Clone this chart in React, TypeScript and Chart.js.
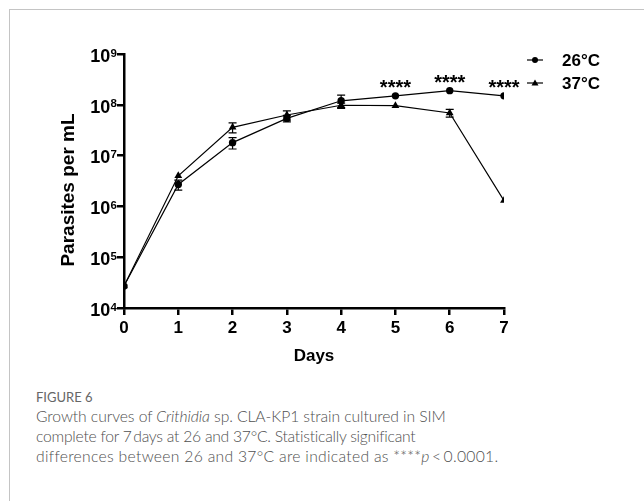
import React, { useEffect, useRef } from "react";
import { Chart, registerables } from "chart.js";

Chart.register(...registerables);

// ---- data ----
const days = [0, 1, 2, 3, 4, 5, 6, 7];
const label26 = "26°C";
const label37 = "37°C";
const mean26 = [2.7e4, 2.7e6, 1.8e7, 5.4e7, 1.2e8, 1.5e8, 1.9e8, 1.5e8];
const sd26 = [0, 6e5, 4.5e6, 8e6, 3.5e7, 0, 0, 0];
const mean37 = [2.7e4, 4.0e6, 3.6e7, 6.3e7, 9.8e7, 9.6e7, 6.9e7, 1.3e6];
const sd37 = [0, 0, 8e6, 1.3e7, 1.0e7, 0, 1.2e7, 0];
const yTickValues = [1e4, 1e5, 1e6, 1e7, 1e8, 1e9];
const xTickValues = [0, 1, 2, 3, 4, 5, 6, 7];
const sigDays = [5, 6, 7];
const sigMark = "****";
const yTitle = "Parasites per mL";
const xTitle = "Days";

const FONT = "'Liberation Sans', Arial, sans-serif";

const customPlugin = {
  id: "custom",
  beforeDatasetsDraw(chart: any) {
    const ctx = chart.ctx;
    const ys = chart.scales.y;
    const sds = [sd26, sd37];
    const means = [mean26, mean37];
    ctx.save();
    ctx.strokeStyle = "#000";
    ctx.lineWidth = 1.2;
    chart.data.datasets.forEach((_: any, i: number) => {
      const meta = chart.getDatasetMeta(i);
      meta.data.forEach((pt: any, j: number) => {
        const m = means[i][j];
        const e = sds[i][j];
        if (!e) return;
        const yT = ys.getPixelForValue(m + e);
        const yB = ys.getPixelForValue(Math.max(m - e, 1));
        const x = pt.x;
        ctx.beginPath();
        ctx.moveTo(x, yT);
        ctx.lineTo(x, yB);
        ctx.moveTo(x - 4, yT);
        ctx.lineTo(x + 4, yT);
        ctx.moveTo(x - 4, yB);
        ctx.lineTo(x + 4, yB);
        ctx.stroke();
      });
    });
    ctx.restore();
  },
  afterDraw(chart: any) {
    const ctx = chart.ctx;
    const ys = chart.scales.y;
    const xs = chart.scales.x;
    const area = chart.chartArea;
    ctx.save();
    ctx.fillStyle = "#000";
    // y tick labels with superscript exponents
    yTickValues.forEach((v) => {
      const y = ys.getPixelForValue(v);
      const exp = String(Math.round(Math.log10(v)));
      const expRight = area.left - 7;
      ctx.font = `bold 11.5px ${FONT}`;
      const ew = ctx.measureText(exp).width;
      ctx.textAlign = "left";
      ctx.textBaseline = "alphabetic";
      ctx.fillText(exp, expRight - ew, y + 2.5);
      ctx.font = `bold 18px ${FONT}`;
      ctx.textAlign = "right";
      ctx.fillText("10", expRight - ew - 0.3, y + 7.7);
    });
    // axis titles
    ctx.font = `bold 19px ${FONT}`;
    ctx.textAlign = "center";
    ctx.textBaseline = "middle";
    ctx.save();
    ctx.translate(69, 190);
    ctx.rotate(-Math.PI / 2);
    ctx.fillText(yTitle, 0, 0);
    ctx.restore();
    ctx.font = `bold 17px ${FONT}`;
    ctx.fillText(xTitle, (area.left + area.right) / 2, 356);
    // significance marks
    ctx.font = `bold 20px ${FONT}`;
    ctx.textAlign = "center";
    ctx.textBaseline = "alphabetic";
    sigDays.forEach((d) => {
      const idx = days.indexOf(d);
      const top = Math.min(ys.getPixelForValue(mean26[idx]), ys.getPixelForValue(mean37[idx]));
      ctx.fillText(sigMark, xs.getPixelForValue(d), top - 13 + 11.5);
    });
    // legend
    const items = [
      { label: label26, style: "circle", y: 60 },
      { label: label37, style: "triangle", y: 83 },
    ];
    items.forEach((it) => {
      ctx.strokeStyle = "#000";
      ctx.lineWidth = 1.2;
      ctx.beginPath();
      ctx.moveTo(527, it.y);
      ctx.lineTo(543, it.y);
      ctx.stroke();
      ctx.beginPath();
      if (it.style === "circle") {
        ctx.arc(535, it.y, 3, 0, Math.PI * 2);
      } else {
        ctx.moveTo(535, it.y - 3.5);
        ctx.lineTo(538.5, it.y + 2.5);
        ctx.lineTo(531.5, it.y + 2.5);
        ctx.closePath();
      }
      ctx.fill();
      ctx.font = `bold 17px ${FONT}`;
      ctx.textAlign = "left";
      ctx.textBaseline = "middle";
      ctx.fillText(it.label, 562, it.y + 1);
    });
    ctx.restore();
  },
};

function ChartCanvas() {
  const ref = useRef<HTMLCanvasElement | null>(null);
  useEffect(() => {
    if (!ref.current) return;
    const chart = new Chart(ref.current, {
      type: "line",
      data: {
        datasets: [
          {
            label: label26,
            data: days.map((d, i) => ({ x: d, y: mean26[i] })),
            borderColor: "#000",
            backgroundColor: "#000",
            borderWidth: 1.2,
            pointStyle: "circle",
            pointRadius: 3.7,
            pointBorderWidth: 0,
            tension: 0,
          },
          {
            label: label37,
            data: days.map((d, i) => ({ x: d, y: mean37[i] })),
            borderColor: "#000",
            backgroundColor: "#000",
            borderWidth: 1.2,
            pointStyle: "triangle",
            pointRadius: 4.5,
            pointBorderWidth: 0,
            tension: 0,
          },
        ],
      },
      options: {
        animation: false,
        responsive: false,
        events: [],
        layout: { padding: { left: 0, top: 54, right: 140, bottom: 0 } },
        plugins: { legend: { display: false }, tooltip: { enabled: false } },
        scales: {
          x: {
            type: "linear",
            min: 0,
            max: 7,
            afterBuildTicks: (s: any) => {
              s.ticks = xTickValues.map((v) => ({ value: v }));
            },
            afterFit: (s: any) => {
              s.height = 72;
            },
            grid: {
              drawOnChartArea: false,
              drawTicks: true,
              tickLength: 7,
              tickWidth: 2.5,
              tickColor: "#000",
              color: "#000",
              lineWidth: 2.5,
            },
            border: { display: true, color: "#000", width: 2.5 },
            ticks: {
              color: "#000",
              padding: 3,
              maxRotation: 0,
              font: { family: FONT, size: 17, weight: "bold" },
            },
          },
          y: {
            type: "logarithmic",
            min: 1e4,
            max: 1e9,
            afterBuildTicks: (s: any) => {
              s.ticks = yTickValues.map((v) => ({ value: v }));
            },
            afterFit: (s: any) => {
              s.width = 124;
            },
            grid: {
              drawOnChartArea: false,
              drawTicks: true,
              tickLength: 7,
              tickWidth: 2.5,
              tickColor: "#000",
              color: "#000",
              lineWidth: 2.5,
            },
            border: { display: true, color: "#000", width: 2.5 },
            ticks: { display: false },
          },
        },
      },
      plugins: [customPlugin],
    } as any);
    return () => chart.destroy();
  }, []);
  return (
    <canvas
      ref={ref}
      width={644}
      height={380}
      style={{ position: "absolute", left: 0, top: 0, width: 644, height: 380 }}
    />
  );
}

const capFont = "Lato, 'Open Sans', sans-serif";

export default function App() {
  const line: React.CSSProperties = {
    position: "absolute",
    left: 36,
    whiteSpace: "nowrap",
    fontFamily: capFont,
    fontWeight: 300,
    fontSize: 15.7,
    lineHeight: "20px",
    color: "#4f4f4f",
  };
  return (
    <div
      style={{
        position: "fixed",
        left: 0,
        top: 0,
        width: 644,
        height: 501,
        background: "#fff",
        overflow: "hidden",
      }}
    >
      <div
        style={{
          position: "absolute",
          left: 9,
          top: 9,
          width: 800,
          height: 700,
          borderTop: "1px solid #c4c4c4",
          borderLeft: "1px solid #c4c4c4",
        }}
      />
      <ChartCanvas />
      <div
        style={{
          position: "absolute",
          left: 36,
          top: 390,
          whiteSpace: "nowrap",
          fontFamily: capFont,
          fontWeight: 400,
          fontSize: 13,
          lineHeight: "14px",
          color: "#666",
        }}
      >
        FIGURE 6
      </div>
      <div style={{ ...line, top: 406, letterSpacing: "-0.08px" }}>
        Growth curves of <i>Crithidia</i> sp. CLA-KP1 strain cultured in SIM
      </div>
      <div style={{ ...line, top: 426, letterSpacing: "-0.25px" }}>
        complete for 7&#8201;days at 26 and 37°C. Statistically significant
      </div>
      <div style={{ ...line, top: 446, letterSpacing: "0.3px" }}>
        differences between 26 and 37°C are indicated as ****<i>p</i>&#8201;&lt;&#8201;0.0001.
      </div>
    </div>
  );
}
